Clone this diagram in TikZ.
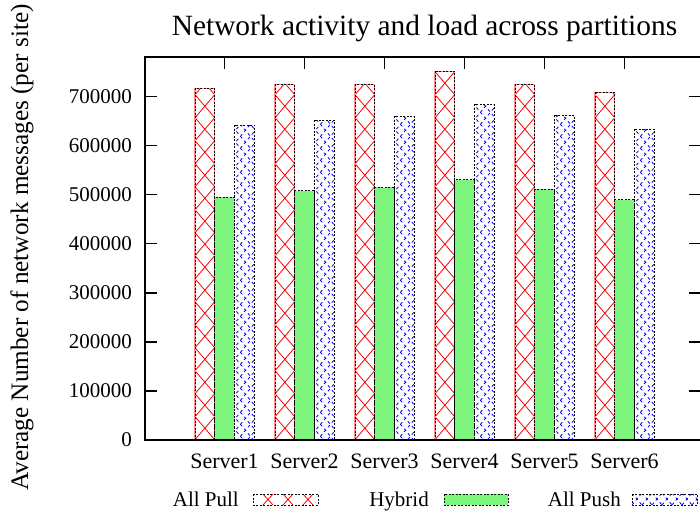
\documentclass[tikz,border=0pt]{standalone}
\usepackage{fontspec}
\setmainfont{Liberation Serif}
\definecolor{hybgreen}{RGB}{125,245,125}
\tikzset{
  axisline/.style={line width=1.6bp, black},
  pullline/.style={red, line width=0.8bp},
  pushline/.style={blue, line width=0.8bp, dash pattern=on 3bp off 3bp},
  edge/.style={black, line width=0.8bp, dash pattern=on 2bp off 1.5bp},
  pinkedge/.style={red!45, line width=1.4bp},
  lbl/.style={inner sep=0pt, font=\fontsize{21bp}{25bp}\selectfont},
  srv/.style={inner sep=0pt, anchor=base, font=\fontsize{22bp}{26bp}\selectfont},
}
\newcommand{\pullbar}[4]{% x0, ybottom, ytop, width
  \begin{scope}
    \clip (#1,#3) rectangle (#1+#4,#2);
    \foreach \j in {0,...,18} {
      \draw[pullline] (#1,#2+23-23*\j) -- (#1+#4,#2-23*\j);
      \draw[pullline] (#1,#2-23*\j) -- (#1+#4,#2+23-23*\j);
    }
  \end{scope}
  \draw[pinkedge] (#1,#3) rectangle (#1+#4,#2);
  \draw[edge] (#1,#3) rectangle (#1+#4,#2);
}
\newcommand{\hybbar}[4]{%
  \fill[hybgreen] (#1,#3) rectangle (#1+#4,#2);
  \draw[edge] (#1,#3) rectangle (#1+#4,#2);
}
\newcommand{\pushbar}[4]{%
  \begin{scope}
    \clip (#1,#3) rectangle (#1+#4,#2);
    \foreach \j in {0,...,36} {
      \draw[pushline] (#1-2,#2+30-12*\j) -- (#1+#4+4,#2+30-12*\j-1.2*#4-7.2);
      \draw[pushline] (#1-2,#2+30-12*\j-1.2*#4-7.2) -- (#1+#4+4,#2+30-12*\j);
    }
  \end{scope}
  \draw[edge] (#1,#3) rectangle (#1+#4,#2);
}
\begin{document}
\begin{tikzpicture}[x=1bp,y=-1bp]
\useasboundingbox (0,0) rectangle (700,515);
% bars
\foreach \k/\a/\b/\c in {0/717/495/642, 1/725/508/652, 2/725/515/660, 3/752/531/685, 4/725/511/662, 5/709/490/634} {
  \pgfmathsetmacro\xo{195+80*\k}
  \pgfmathsetmacro\ya{439.7-0.49*\a}
  \pgfmathsetmacro\yb{439.7-0.49*\b}
  \pgfmathsetmacro\yc{439.7-0.49*\c}
  \pgfmathsetmacro\xb{\xo+19.7}
  \pgfmathsetmacro\xc{\xo+39.6}
  \pullbar{\xo}{439.7}{\ya}{19.7}
  \hybbar{\xb}{439.7}{\yb}{19.7}
  \pushbar{\xc}{439.7}{\yc}{19.7}
}
% frame
\draw[axisline] (145,57) rectangle (701,439.7);
\foreach \i in {1,...,7} {
  \draw[axisline] (145,439.7-49*\i) -- (157,439.7-49*\i);
  \draw[axisline] (701,439.7-49*\i) -- (689,439.7-49*\i);
}
\foreach \k in {0,...,5} {
  \draw[axisline] (224.5+80*\k,57) -- (224.5+80*\k,69);
}
% tick labels
\node[lbl, anchor=east] (t0) at (132,439.7) {0};
\foreach \i in {1,...,7} {
  \node[lbl, anchor=east] (t\i) at (132,439.7-49*\i) {\i00000};
}
\foreach \k in {0,...,5} {
  \pgfmathtruncatemacro\n{\k+1}
  \node[srv] (s\n) at (224.5+80*\k,468) {Server\n};
}
% title and axis label
\node[inner sep=0pt, anchor=base, font=\fontsize{29.4bp}{33bp}\selectfont] (title) at (424.5,35.5) {Network activity and load across partitions};
\node[inner sep=0pt, rotate=90, font=\fontsize{25.2bp}{29bp}\selectfont] (ylab) at (22,247.5) {Average Number of network messages (per site)};
% legend
\node[lbl, anchor=base east] (kpull) at (239,506.5) {All Pull};
\node[lbl, anchor=base east] (khyb) at (429,506.5) {Hybrid};
\node[lbl, anchor=base east] (kpush) at (621,506.5) {All Push};
\begin{scope}
  \clip (253,494) rectangle (318,505);
  \foreach \x in {243,263,...,323} {
    \draw[pullline] (\x,505) -- (\x+10,494);
    \draw[pullline] (\x,494) -- (\x+10,505);
  }
\end{scope}
\draw[edge] (253,494) rectangle (318,505);
\fill[hybgreen] (444,494) rectangle (508,505);
\draw[edge] (444,494) rectangle (508,505);
\begin{scope}
  \clip (632,494) rectangle (697,505);
  \foreach \x in {622,632,...,702} {
    \draw[pushline] (\x,505) -- (\x+10,493);
    \draw[pushline] (\x,493) -- (\x+10,505);
  }
\end{scope}
\draw[edge] (632,494) rectangle (697,505);
\end{tikzpicture}
\end{document}
